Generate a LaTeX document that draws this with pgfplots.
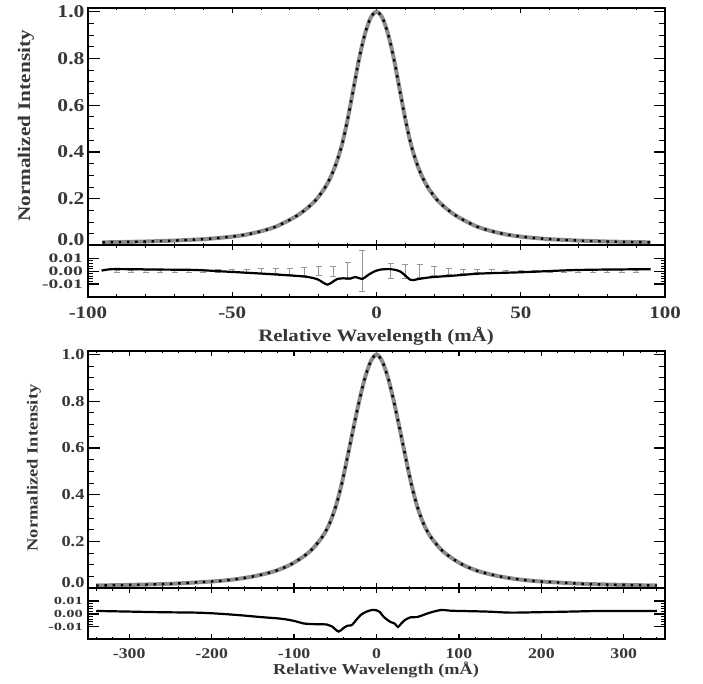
\documentclass[border=0pt]{standalone}
\usepackage{fontspec}
\setmainfont{Liberation Serif}
\newfontfamily\idl{Liberation Serif}[FakeStretch=1.2]
\newfontfamily\idlwide{Liberation Serif}[FakeStretch=1.5]
\usepackage{pgfplots}
\usepackage{pgfplotstable}
\pgfplotsset{compat=1.18}

% line profile, upper panel (mA, normalized intensity)
\pgfplotstableread{
x y
-95 0.0135
-90 0.0145
-85 0.0157
-80 0.017
-75 0.019
-70 0.021
-65 0.024
-60 0.027
-55 0.032
-50 0.038
-45 0.047
-40 0.061
-35 0.080
-30 0.110
-27 0.132
-24 0.160
-21 0.195
-18 0.245
-16 0.290
-14 0.350
-12 0.430
-10 0.540
-8 0.670
-6 0.800
-4 0.905
-2 0.975
0 1.000
2 0.975
4 0.905
6 0.800
8 0.670
10 0.540
12 0.430
14 0.350
16 0.290
18 0.245
21 0.195
24 0.160
27 0.132
30 0.110
35 0.080
40 0.061
45 0.047
50 0.038
55 0.032
60 0.027
65 0.024
70 0.021
75 0.019
80 0.017
85 0.0157
90 0.0145
95 0.0135
}\proftop

\pgfplotstableread{
x y
-95.3 0.0005
-92 0.0016
-86 0.0016
-75 0.0013
-63 0.0010
-52 -0.0003
-40 -0.0018
-29 -0.0034
-24 -0.0044
-20.5 -0.0062
-18.5 -0.0088
-17 -0.0104
-15.4 -0.0086
-13.6 -0.0060
-11.3 -0.0055
-9 -0.0057
-7.3 -0.0044
-5 -0.0060
-2.7 -0.0026
-0.3 0.0003
1.4 0.0013
4.9 0.0016
8.3 -0.0003
11.8 -0.0067
14.1 -0.0062
18.7 -0.0047
26.8 -0.0034
36 -0.0018
50 -0.0008
67 0.0008
79 0.0013
95 0.0016
}\restop

\pgfplotstableread{
x y e
-90 0 0.0008
-85 0 0.0008
-80 0 0.0008
-75 0 0.0008
-70 0 0.0009
-65 0 0.0009
-60 0 0.0010
-55 0 0.0010
-50 0 0.0012
-45 0 0.0015
-40 0 0.0018
-35 0 0.0020
-30 0 0.0024
-25 0 0.0032
-20 0 0.0036
-15 0 0.0040
-10 0 0.0065
-5 0 0.0160
5 0 0.0058
10 0 0.0056
15 0 0.0050
20 0 0.0036
25 0 0.0023
30 0 0.0016
35 0 0.0013
40 0 0.0011
45 0 0.0009
50 0 0.0008
55 0 0.0008
60 0 0.0008
65 0 0.0008
70 0 0.0008
75 0 0.0008
80 0 0.0008
85 0 0.0008
90 0 0.0008
}\errtop

% line profile, lower panel
\pgfplotstableread{
x y
-340 0.012
-315 0.0135
-280 0.016
-245 0.020
-210 0.027
-192 0.031
-175 0.037
-157 0.046
-140 0.058
-122 0.075
-105 0.100
-91 0.130
-80 0.160
-70 0.200
-63 0.235
-56 0.285
-49 0.355
-42 0.450
-35 0.565
-28 0.685
-21 0.800
-14 0.900
-7 0.970
0 1.000
7 0.970
14 0.900
21 0.800
28 0.685
35 0.565
42 0.450
49 0.355
56 0.285
63 0.235
70 0.200
80 0.160
91 0.130
105 0.100
122 0.075
140 0.058
157 0.046
175 0.037
192 0.031
210 0.027
245 0.020
280 0.016
315 0.0135
340 0.012
}\profbot

\pgfplotstableread{
x y
-340 0.0023
-300 0.0018
-260 0.0013
-220 0.0010
-200 0.0005
-170 -0.0008
-140 -0.0025
-115 -0.0038
-100 -0.0055
-88 -0.0075
-76 -0.0080
-60 -0.0083
-54 -0.0098
-46 -0.0138
-40 -0.0110
-35 -0.0092
-30 -0.0088
-25 -0.0050
-19 -0.0008
-13 0.0015
-6 0.0030
0 0.0028
4 0.0015
9 -0.0025
17 -0.0063
22 -0.0075
26 -0.0102
30 -0.0075
34 -0.0050
41 -0.0027
49 -0.0025
57 -0.0008
65 0.0010
78 0.0030
90 0.0025
100 0.0023
134 0.0018
162 0.0010
195 0.0013
235 0.0018
275 0.0023
340 0.0023
}\resbot

\definecolor{fitgray}{RGB}{140,140,140}
\definecolor{errgray}{RGB}{150,150,150}
\definecolor{txt}{RGB}{55,55,55}

\pgfplotsset{
  panel/.style={
    scale only axis, width=577pt,
    axis line style={line width=2pt},
    tick style={black, line width=1.4pt},
    minor tick style={line width=1pt},
    xtick style={/pgfplots/major tick length=5pt, /pgfplots/minor tick length=2.5pt},
    tick align=inside, xtick pos=both, ytick pos=both,
    ticklabel style={text=txt},
    scaled ticks=false,
    /pgf/number format/assume math mode=true,
  },
  mainy/.style={
    ymin=0, ymax=1.016,
    ytick style={/pgfplots/major tick length=11.5pt, /pgfplots/minor tick length=6pt},
    ytick={0.2,0.4,0.6,0.8,1.0},
    extra y ticks={0},
    extra y tick style={yticklabel style={yshift=6pt}},
    minor ytick={0.05,0.10,0.15,0.25,0.30,0.35,0.45,0.50,0.55,0.65,0.70,0.75,0.85,0.90,0.95},
    yticklabel style={/pgf/number format/fixed, /pgf/number format/fixed zerofill,
                      /pgf/number format/precision=1},
    xticklabels={},
  },
  resy/.style={
    ymin=-0.02, ymax=0.02,
    ytick style={/pgfplots/major tick length=11pt, /pgfplots/minor tick length=4.5pt},
    ytick={-0.01,0,0.01},
    minor y tick num=4,
    yticklabel style={inner sep=1pt, xshift=-4pt,
                      /pgf/number format/fixed, /pgf/number format/fixed zerofill,
                      /pgf/number format/precision=2},
    xticklabel style={yshift=-6pt},
  },
  fit/.style={fitgray, line width=4pt, smooth},
  obs/.style={black, line width=2.4pt, dash pattern=on 2.4pt off 5.8pt, smooth},
  resline/.style={black, line width=2.2pt, smooth},
}

\begin{document}
\begin{tikzpicture}
\useasboundingbox (0,0) rectangle (703pt,684pt);

% ---------- upper panel ----------
\begin{axis}[panel, mainy, at={(88pt,438.5pt)}, anchor=south west, height=237.5pt,
  xmin=-100, xmax=100, xtick={-100,-50,0,50,100},
  minor xtick={-90,-80,-70,-60,-40,-30,-20,-10,10,20,30,40,60,70,80,90},
  ticklabel style={font=\idl\bfseries\fontsize{18}{18}\selectfont}]
\addplot[fit] table[x=x,y=y] {\proftop};
\addplot[obs] table[x=x,y=y] {\proftop};
\end{axis}

\begin{axis}[panel, resy, at={(88pt,387pt)}, anchor=south west, height=51.5pt,
  xmin=-100, xmax=100, xtick={-100,-50,0,50,100},
  minor xtick={-90,-80,-70,-60,-40,-30,-20,-10,10,20,30,40,60,70,80,90},
  xticklabel style={font=\idl\bfseries\fontsize{17.5}{17.5}\selectfont},
  yticklabel style={font=\idlwide\bfseries\fontsize{13}{13}\selectfont}]
\addplot[draw=none, mark=none, error bars/.cd, y dir=both, y explicit,
  error mark=|,
  error bar style={draw=errgray, solid, line width=1pt},
  error mark options={draw=errgray, solid, line width=1pt, mark size=3pt}]
  table[x=x,y=y,y error=e] {\errtop};
\addplot[resline] table[x=x,y=y] {\restop};
\end{axis}

\node[rotate=90, text=txt, font=\idl\bfseries\fontsize{17.7}{17.7}\selectfont] at (26pt,558pt) {Normalized Intensity};
\node[text=txt, font=\idl\bfseries\fontsize{17.4}{17.4}\selectfont] at (376pt,348pt) {Relative Wavelength (mÅ)};

% ---------- lower panel ----------
\begin{axis}[panel, mainy, at={(88pt,95.7pt)}, anchor=south west, height=237.6pt,
  xmin=-350, xmax=350, xtick={-300,-200,-100,0,100,200,300},
  minor xtick={-340,-320,-280,-260,-240,-220,-180,-160,-140,-120,-80,-60,-40,-20,20,40,60,80,120,140,160,180,220,240,260,280,320,340},
  ticklabel style={font=\idl\bfseries\fontsize{15.3}{15.3}\selectfont}]
\addplot[fit] table[x=x,y=y] {\profbot};
\addplot[obs] table[x=x,y=y] {\profbot};
\end{axis}

\begin{axis}[panel, resy, at={(88pt,44.5pt)}, anchor=south west, height=51.2pt,
  xmin=-350, xmax=350, xtick={-300,-200,-100,0,100,200,300},
  minor xtick={-340,-320,-280,-260,-240,-220,-180,-160,-140,-120,-80,-60,-40,-20,20,40,60,80,120,140,160,180,220,240,260,280,320,340},
  xticklabel style={font=\idl\bfseries\fontsize{14.8}{14.8}\selectfont},
  yticklabel style={font=\idlwide\bfseries\fontsize{11}{11}\selectfont}]
\addplot[resline] table[x=x,y=y] {\resbot};
\end{axis}

\node[rotate=90, text=txt, font=\idl\bfseries\fontsize{15.4}{15.4}\selectfont] at (34pt,216pt) {Normalized Intensity};
\node[text=txt, font=\idl\bfseries\fontsize{15.2}{15.2}\selectfont] at (376pt,14pt) {Relative Wavelength (mÅ)};
\end{tikzpicture}
\end{document}
